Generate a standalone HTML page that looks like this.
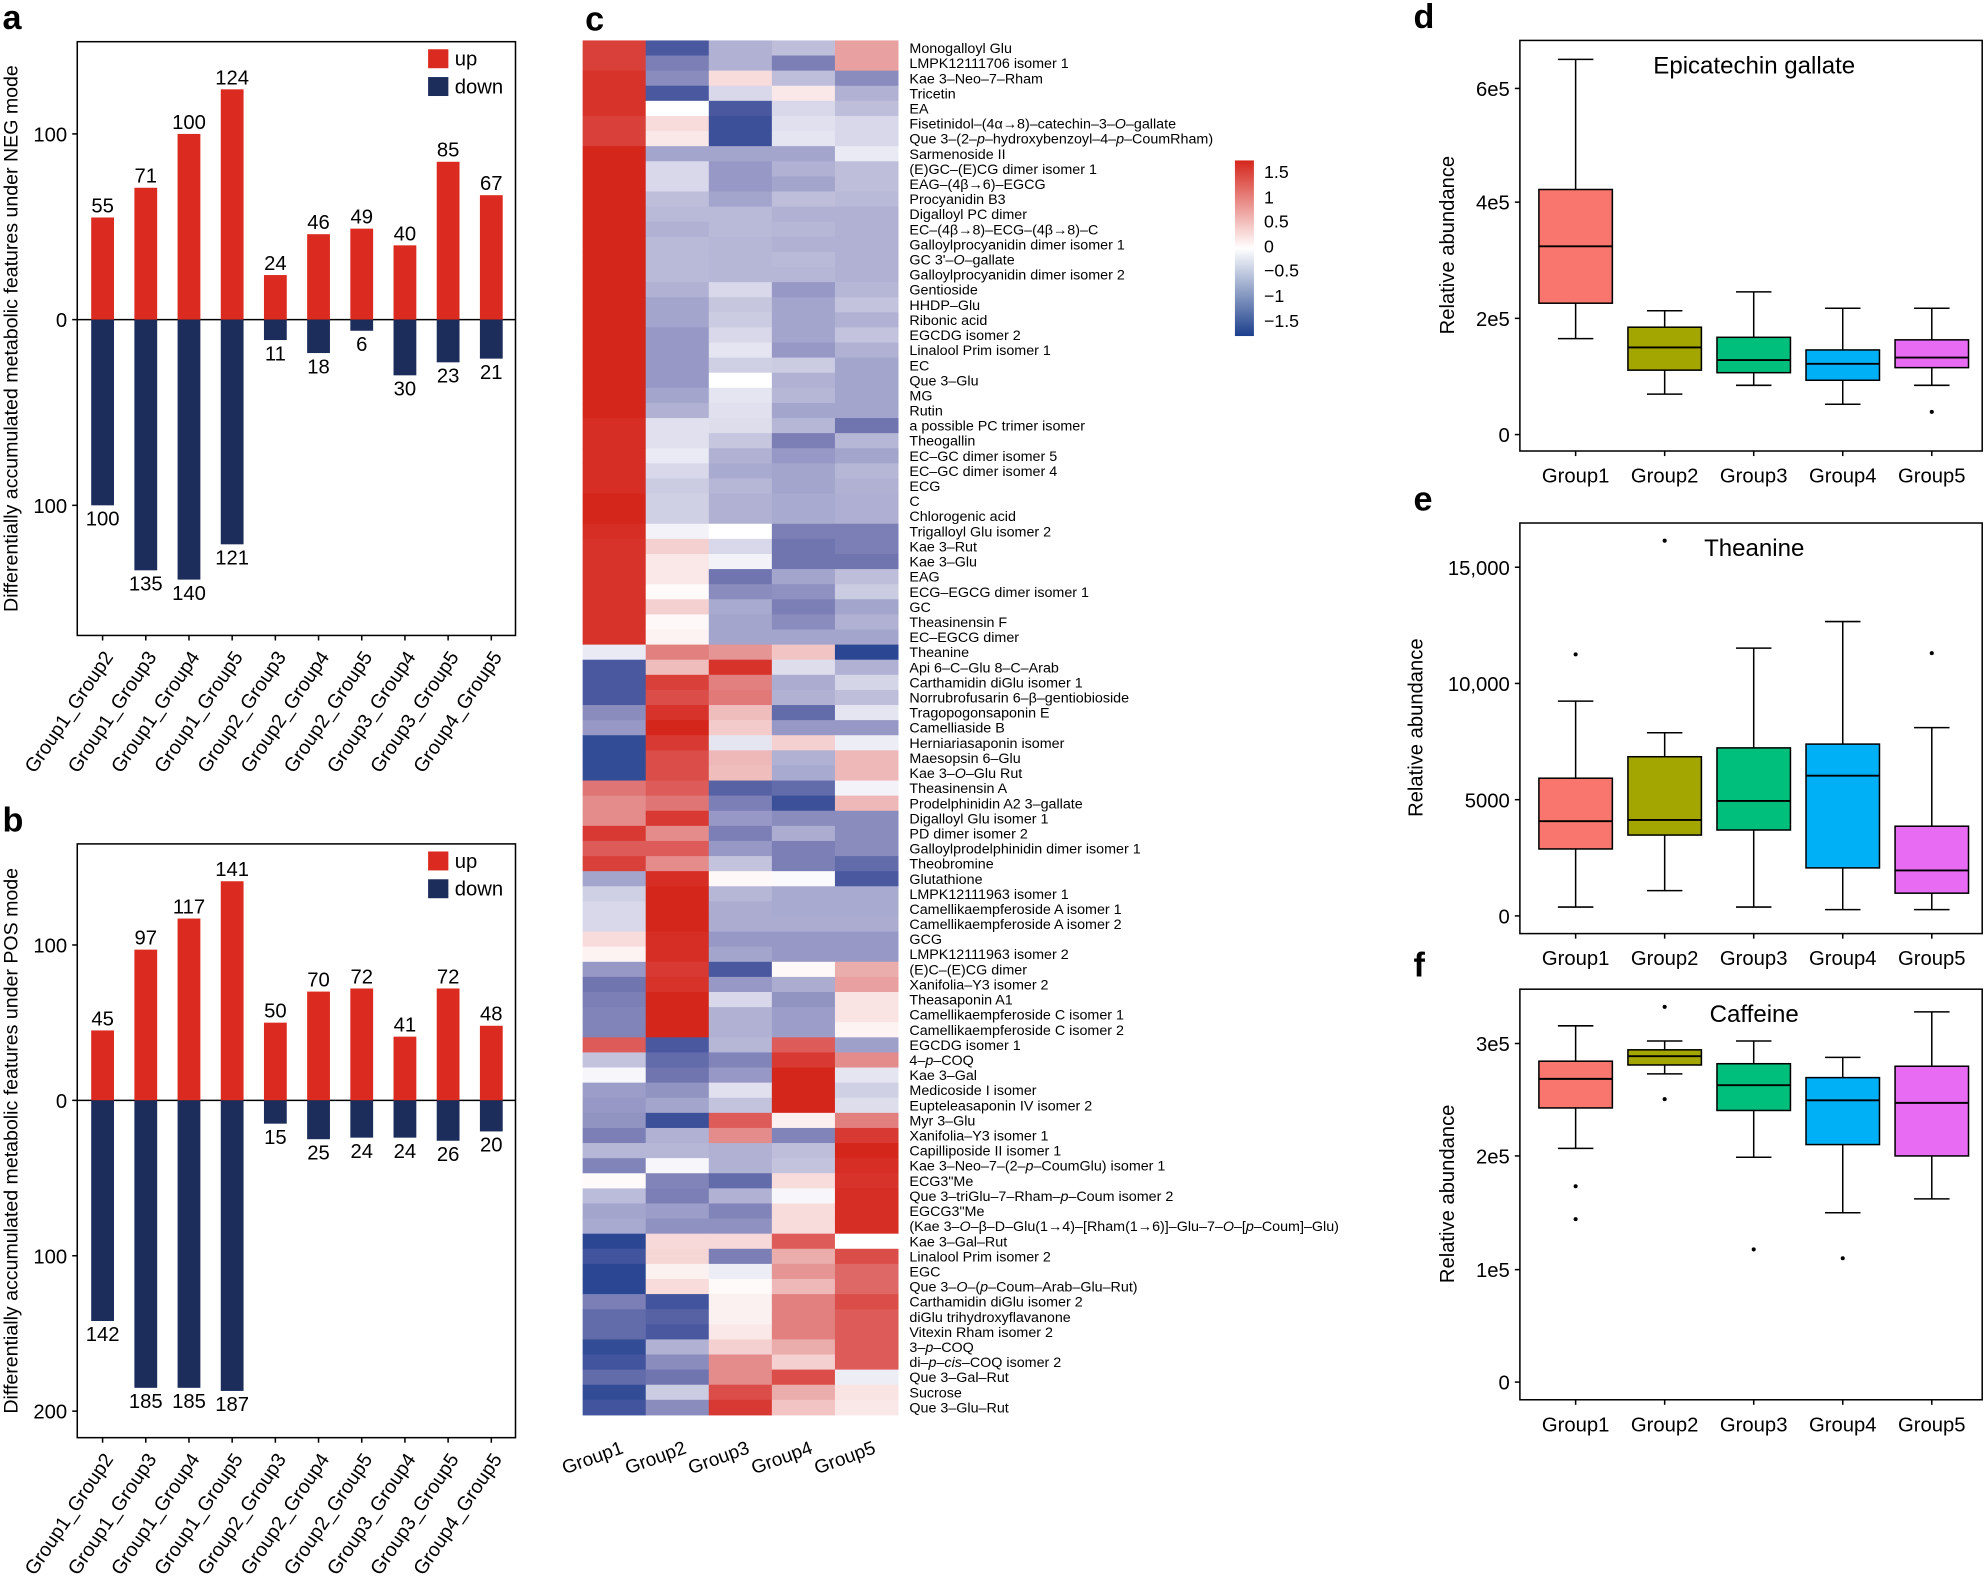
<!DOCTYPE html>
<html><head><meta charset="utf-8">
<style>html,body{margin:0;padding:0;background:#fff}svg{display:block}text{font-family:"Liberation Sans",Arial,sans-serif}</style>
</head><body>
<svg id="s" xmlns="http://www.w3.org/2000/svg" width="1986" height="1588" viewBox="0 0 1568 1257" preserveAspectRatio="none"></svg>
<script>
const S=document.getElementById('s');let h='';
function T(x,y,t,o){o=o||{};h+=`<text x="${x}" y="${y}" font-size="${o.fs||15}" text-anchor="${o.a||'start'}" ${o.w?'font-weight="bold"':''} ${o.tr?`transform="${o.tr}"`:''} fill="#000">${t}</text>`;}
function R(x,y,w,hh,f,st){h+=`<rect x="${x}" y="${y}" width="${w}" height="${hh}" fill="${f}" ${st?`stroke="${st}" stroke-width="1.2"`:''}/>`;}
function L(x1,y1,x2,y2,w){h+=`<line x1="${x1}" y1="${y1}" x2="${x2}" y2="${y2}" stroke="#000" stroke-width="${w||1.2}"/>`;}
const RED='#db2a1f',BLU='#1c2d5c';
function bar(top,zero,scale,up,dn,ticks,lab,ylab,leg){
 R(61,top,346,470,'none','#000');L(61,zero,407,zero);
 T(2,top-10,lab,{fs:27,w:1});
 ticks.forEach(t=>{L(57,t[1],61,t[1]);T(53,t[1]+6,t[0],{fs:16,a:'end'});});
 T(14,(top+top+470)/2,ylab,{fs:15.5,a:'middle',tr:`rotate(-90 14 ${(top+top+470)/2})`});
 const names=['Group1_Group2','Group1_Group3','Group1_Group4','Group1_Group5','Group2_Group3','Group2_Group4','Group2_Group5','Group3_Group4','Group3_Group5','Group4_Group5'];
 for(let i=0;i<10;i++){const c=81+i*34.1;const hu=up[i]*scale,hd=dn[i]*scale;
  R(c-9,zero-hu,18,hu,RED);R(c-9,zero,18,hd,BLU);
  T(c,zero-hu-4,up[i],{fs:16,a:'middle'});T(c,zero+hd+16,dn[i],{fs:16,a:'middle'});
  L(c,top+470,c,top+474);
  T(c+9,top+487,names[i],{fs:15.5,a:'end',tr:`rotate(-56 ${c+9} ${top+487})`});}
 R(338,leg,16,15,RED);T(359,leg+13,'up',{fs:16});R(338,leg+22,16,15,BLU);T(359,leg+35,'down',{fs:16});
}
bar(33,253,1.47,[55,71,100,124,24,46,49,40,85,67],[100,135,140,121,11,18,6,30,23,21],[['100',106],['0',253],['100',400]],'a','Differentially accumulated metabolic features under NEG mode',39);
bar(668,871,1.23,[45,97,117,141,50,70,72,41,72,48],[142,185,185,187,15,25,24,24,26,20],[['100',748],['0',871],['100',994],['200',1117]],'b','Differentially accumulated metabolic features under POS mode',674);
const V=[[8,-7,-3,-2.5,4],[8,-5,-3,-5,4],[9,-4.5,1.5,-2.5,-4.5],[9,-7,-1.5,1,-3],[9,0,-7,-1.5,-2.5],[8,1.5,-8,-1.2,-1.5],[8,1,-8,-1,-1.5],[10,-3.5,-3.5,-3.5,-0.8],[10,-1.5,-4,-3,-2.5],[10,-1.5,-4,-3.5,-2.5],[10,-2.5,-3.5,-2.5,-2.7],[10,-2.7,-2.7,-3,-3],[10,-3,-2.7,-2.8,-3],[10,-2.7,-2.8,-3,-3],[10,-2.7,-2.8,-2.7,-3],[10,-2.7,-2.8,-2.8,-3],[10,-3,-1.5,-4,-2.8],[10,-3.5,-2.2,-3.5,-2.3],[10,-3.5,-2,-3.5,-3],[10,-4,-1.5,-3.5,-2.3],[10,-4,-1,-4,-3],[10,-4,-1.8,-2,-3.5],[10,-4,0,-3,-3.5],[10,-3.5,-1,-2.8,-3.5],[10,-3,-1.2,-3.5,-3.5],[9.5,-1.2,-1.3,-2.8,-5.5],[9.5,-1.2,-2.2,-5,-2.8],[9.5,-0.8,-3,-4,-3.5],[9.5,-1.5,-3.3,-3.5,-2.8],[9.5,-2,-2.8,-3.5,-3],[10,-1.8,-3,-3.3,-3.1],[10,-1.8,-3,-3.3,-3.1],[9.5,-0.5,0,-5,-5],[9,2,-1.5,-5.5,-5],[9,1,-0.5,-5.5,-5.5],[9,1,-5.5,-3.5,-2.5],[9,0.2,-4.5,-4.3,-2],[9,2,-3.3,-5,-3.5],[9,0.3,-3.5,-4.5,-3],[9,0.5,-3.5,-3.5,-3.5],[-0.8,5.5,4.5,2.5,-9],[-7,2.8,9,-1.3,-3],[-7,8,5.5,-3.2,-1.6],[-7,7.5,5.8,-3,-2.5],[-4.5,9,2.8,-6,-1],[-4,10,2.2,-4,-4],[-8.5,8.5,-1,2,-0.7],[-8.5,7.5,3,-3,3],[-8.5,7.5,2.8,-3.3,3],[6,7,-6.5,-6,-0.5],[5,6,-5,-8,3],[5,8.5,-4,-4.5,-4.5],[8.5,5,-5,-3.2,-4.5],[7,7,-4,-5,-4.5],[8,5,-2.3,-5,-6],[-3.5,9.5,0.3,-0.2,-7],[-1.8,10,-2.8,-3.3,-3.3],[-1.5,10,-3.2,-3.3,-3.3],[-1.5,10,-3.2,-3.2,-3.2],[1.5,9.5,-4,-4,-4],[0.5,9.5,-3.5,-4,-4],[-4,8.5,-7,0.3,3.5],[-5.5,9,-4,-3.2,4],[-5,10,-1.5,-4.2,1.2],[-4.8,10,-3,-3.8,1.2],[-4.8,10,-3,-3.8,0.5],[7,-7,-2.8,7,-3.7],[-2.3,-6,-4.8,8.5,5],[-0.3,-5.5,-4,10,-1],[-3.8,-4.2,-1.2,10,-1.8],[-4,-3.5,-2.3,10,-1.3],[-4.2,-8,7,0.7,5.5],[-5,-3,5,-4.8,8.5],[-2.8,-2.8,-3,-2.5,10],[-4.8,-0.3,-3,-2.3,9.5],[0.2,-4.8,-6,1.5,9],[-2.6,-5,-3,-0.3,9.5],[-3.5,-3.8,-4.8,1.5,9.5],[-3.3,-4.3,-4.3,1.5,9.5],[-9,1.6,1.6,7,0],[-7.5,1.8,-5,3.5,7.5],[-9,0.6,-0.7,4.5,6.5],[-9,1.5,0.2,3,6.5],[-5,-7.5,0.6,5.5,7.5],[-6,-6.5,0.6,5.5,7],[-6,-7,1,5.5,7],[-8.5,-3,2,3.5,7],[-7.5,-4.5,5,2,7],[-6,-5.5,5,7.5,-0.7],[-8.5,-2,7.5,3.5,1.2],[-7.5,-4.5,8.5,2.5,1]];
const stops=[[-10,[28,63,140]],[-7,[74,88,160]],[-5,[124,127,181]],[-3,[177,177,212]],[0,[255,255,255]],[2,[245,208,208]],[4,[232,160,160]],[6,[224,117,117]],[8,[217,64,58]],[10,[213,38,28]]];
function col(v){v=Math.max(-10,Math.min(10,v));for(let i=0;i<stops.length-1;i++){const a=stops[i],b=stops[i+1];if(v>=a[0]&&v<=b[0]){const t=(v-a[0])/(b[0]-a[0]);return 'rgb('+a[1].map((c,k)=>Math.round(c+(b[1][k]-c)*t)).join(',')+')';}}}
const rh=1088/91,cw=49.8;
V.forEach((r,i)=>r.forEach((v,j)=>R((460+j*cw).toFixed(2),(32+i*rh).toFixed(2),(cw+0.4).toFixed(2),(rh+0.4).toFixed(2),col(v))));
const names=['Monogalloyl Glu','LMPK12111706 isomer 1','Kae 3–Neo–7–Rham','Tricetin','EA','Fisetinidol–(4α→8)–catechin–3–<tspan font-style="italic">O</tspan>–gallate','Que 3–(2–<tspan font-style="italic">p</tspan>–hydroxybenzoyl–4–<tspan font-style="italic">p</tspan>–CoumRham)','Sarmenoside II','(E)GC–(E)CG dimer isomer 1','EAG–(4β→6)–EGCG','Procyanidin B3','Digalloyl PC dimer','EC–(4β→8)–ECG–(4β→8)–C','Galloylprocyanidin dimer isomer 1',"GC 3'–<tspan font-style=\"italic\">O</tspan>–gallate",'Galloylprocyanidin dimer isomer 2','Gentioside','HHDP–Glu','Ribonic acid','EGCDG isomer 2','Linalool Prim isomer 1','EC','Que 3–Glu','MG','Rutin','a possible PC trimer isomer','Theogallin','EC–GC dimer isomer 5','EC–GC dimer isomer 4','ECG','C','Chlorogenic acid','Trigalloyl Glu isomer 2','Kae 3–Rut','Kae 3–Glu','EAG','ECG–EGCG dimer isomer 1','GC','Theasinensin F','EC–EGCG dimer','Theanine','Api 6–C–Glu 8–C–Arab','Carthamidin diGlu isomer 1','Norrubrofusarin 6–β–gentiobioside','Tragopogonsaponin E','Camelliaside B','Herniariasaponin isomer','Maesopsin 6–Glu','Kae 3–<tspan font-style="italic">O</tspan>–Glu Rut','Theasinensin A','Prodelphinidin A2 3–gallate','Digalloyl Glu isomer 1','PD dimer isomer 2','Galloylprodelphinidin dimer isomer 1','Theobromine','Glutathione','LMPK12111963 isomer 1','Camellikaempferoside A isomer 1','Camellikaempferoside A isomer 2','GCG','LMPK12111963 isomer 2','(E)C–(E)CG dimer','Xanifolia–Y3 isomer 2','Theasaponin A1','Camellikaempferoside C isomer 1','Camellikaempferoside C isomer 2','EGCDG isomer 1','4–<tspan font-style="italic">p</tspan>–COQ','Kae 3–Gal','Medicoside I isomer','Eupteleasaponin IV isomer 2','Myr 3–Glu','Xanifolia–Y3 isomer 1','Capilliposide II isomer 1','Kae 3–Neo–7–(2–<tspan font-style="italic">p</tspan>–CoumGlu) isomer 1','ECG3"Me','Que 3–triGlu–7–Rham–<tspan font-style="italic">p</tspan>–Coum isomer 2','EGCG3"Me','(Kae 3–<tspan font-style="italic">O</tspan>–β–D–Glu(1→4)–[Rham(1→6)]–Glu–7–<tspan font-style="italic">O</tspan>–[<tspan font-style="italic">p</tspan>–Coum]–Glu)','Kae 3–Gal–Rut','Linalool Prim isomer 2','EGC','Que 3–<tspan font-style="italic">O</tspan>–(<tspan font-style="italic">p</tspan>–Coum–Arab–Glu–Rut)','Carthamidin diGlu isomer 2','diGlu trihydroxyflavanone','Vitexin Rham isomer 2','3–<tspan font-style="italic">p</tspan>–COQ','di–<tspan font-style="italic">p</tspan>–<tspan font-style="italic">cis</tspan>–COQ isomer 2','Que 3–Gal–Rut','Sucrose','Que 3–Glu–Rut'];
names.forEach((n,i)=>T(718,(32+(i+0.5)*rh+4).toFixed(1),n,{fs:11.3}));
['Group1','Group2','Group3','Group4','Group5'].forEach((g,j)=>{const x=493+j*cw,y=1150;T(x,y,g,{fs:15,a:'end',tr:`rotate(-20 ${x} ${y})`});});
T(462,24,'c',{fs:27,w:1});
h+='<defs><linearGradient id="cb" x1="0" y1="0" x2="0" y2="1"><stop offset="0" stop-color="#d5261c"/><stop offset="0.5" stop-color="#fff"/><stop offset="1" stop-color="#1c3f8c"/></linearGradient></defs>';
R(975,127,15,139,'url(#cb)');
[['1.5',136],['1',156],['0.5',175],['0',195],['−0.5',214],['−1',234],['−1.5',254]].forEach(t=>T(998,t[1]+5,t[0],{fs:14}));
const CL=['#f8766d','#a3a500','#00bf7d','#00b0f6','#e76bf3'];
function box(top,lab,title,ticks,data,yx){
 R(1200,top,365,325,'none','#000');T(1116,top-10,lab,{fs:27,w:1});
 T(1385,top+26,title,{fs:19,a:'middle'});
 ticks.forEach(t=>{L(1196,t[1],1200,t[1]);T(1192,t[1]+6,t[0],{fs:16,a:'end'});});
 const cy=top+162;T(yx,cy,'Relative  abundance',{fs:16,a:'middle',tr:`rotate(-90 ${yx} ${cy})`});
 data.forEach((d,i)=>{const c=1244+i*70.3;
  L(c,d[0],c,d[1]);L(c,d[3],c,d[4]);L(c-14,d[0],c+14,d[0]);L(c-14,d[4],c+14,d[4]);
  R(c-29,d[1],58,d[3]-d[1],CL[i],'#000');L(c-29,d[2],c+29,d[2],1.5);
  (d[5]||[]).forEach(o=>h+=`<circle cx="${c}" cy="${o}" r="1.6" fill="#000"/>`);
  L(c,top+325,c,top+329);T(c,top+350,'Group'+(i+1),{fs:16,a:'middle'});});
}
box(32,'d','Epicatechin gallate',[['6e5',70],['4e5',160],['2e5',252],['0',344]],[[47,150,195,240,268],[246,259,275,293,312],[231,267,285,295,305],[244,277,288,301,320],[244,269,283,291,305,[326]]],1148);
box(414,'e','Theanine',[['15,000',449],['10,000',541],['5000',633],['0',725]],[[555,616,650,672,718,[518]],[580,599,649,661,705,[428]],[513,592,634,657,718],[492,589,614,687,720],[576,654,689,707,720,[517]]],1123);
box(783,'f','Caffeine',[['3e5',826],['2e5',915],['1e5',1005],['0',1094]],[[812,840,854,877,909,[939,965]],[824,831,836,843,850,[797,870]],[824,842,859,879,916,[989]],[837,853,871,906,960,[996]],[801,844,873,915,949]],1148);
S.innerHTML=h;
</script>
</body></html>
